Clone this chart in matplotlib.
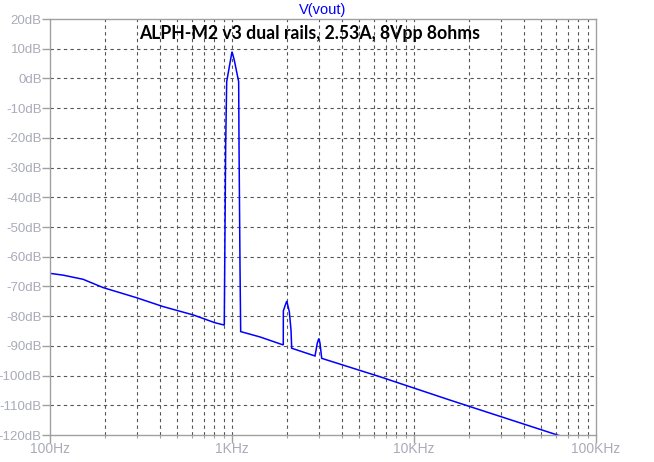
import matplotlib
matplotlib.use("Agg")
import matplotlib.pyplot as plt
from matplotlib.ticker import FixedLocator, FixedFormatter, NullFormatter

# ---- data ----
freq_hz = [100, 118, 152, 196, 299, 419, 613, 804, 907,
           912, 923, 935, 1000, 1029, 1088, 1093, 1107, 1116,
           1425, 1913, 1915, 1955, 2000, 2065, 2110, 2128,
           2858, 2942, 3000, 3044, 3111,
           6505, 15850, 62800]
level_db = [-65.6, -66.2, -67.6, -70.4, -73.8, -76.8, -79.6, -82.2, -83.0,
            -63.4, -22.6, -1.1, 9.0, 6.2, -1.1, -23.0, -64.5, -85.2,
            -87.0, -89.7, -78.2, -76.6, -74.9, -78.5, -84.7, -90.8,
            -93.4, -89.1, -87.5, -89.1, -94.2,
            -100.4, -108.3, -120.2]

y_ticks = list(range(20, -121, -10))
y_labels = [f"{v}dB" for v in y_ticks]
x_major = [100, 1000, 10000, 100000]
x_labels = ["100Hz", "1KHz", "10KHz", "100KHz"]
x_minor = [m * d for d in (100, 1000, 10000) for m in range(2, 10)]

title_text = "V(vout)"
note_text = "ALPH-M2 v3 dual rails, 2.53A, 8Vpp 8ohms"

# ---- figure ----
W, H = 654, 462
fig = plt.figure(figsize=(W / 100, H / 100), dpi=100)
fig.patch.set_facecolor("white")
left, right, top, bottom = 50, 596, 19, 435
ax = fig.add_axes([left / W, 1 - bottom / H, (right - left) / W, (bottom - top) / H])

axis_col = "#a0a0a0"
grid_col = "#555555"
label_col = "#a9abb8"

ax.plot(freq_hz, level_db, color="#0000ff", lw=1.1, solid_joinstyle="miter")
ax.set_xscale("log")
ax.set_xlim(100, 100000)
ax.set_ylim(-120, 20)

ax.xaxis.set_major_locator(FixedLocator(x_major))
ax.xaxis.set_major_formatter(FixedFormatter(x_labels))
ax.xaxis.set_minor_locator(FixedLocator(x_minor))
ax.xaxis.set_minor_formatter(NullFormatter())
ax.yaxis.set_major_locator(FixedLocator(y_ticks))
ax.yaxis.set_major_formatter(FixedFormatter(y_labels))

for v in x_major[1:-1] + x_minor:
    ax.axvline(v, color=grid_col, lw=0.8, ls=(0, (3, 3)), zorder=0.5)
for v in y_ticks[1:-1]:
    ax.axhline(v, color=grid_col, lw=0.8, ls=(0, (3, 3)), zorder=0.5)

for s in ax.spines.values():
    s.set_color(axis_col)
    s.set_linewidth(1.0)

ax.tick_params(axis="both", which="major", direction="out", length=6, width=1.0,
               color=axis_col, labelcolor=label_col, labelsize=9.5,
               labelfontfamily="Liberation Sans")
ax.tick_params(axis="y", which="major", pad=0)
ax.tick_params(axis="x", which="major", pad=-1, labelsize=10)
ax.tick_params(axis="x", which="minor", direction="out", length=2.2, width=0.8,
               color=axis_col)

fig.text((left + right) / 2 / W, 1 - 10 / H, title_text, color="#0000ff",
         ha="center", va="center", fontsize=10.5, family="Liberation Sans")
fig.text(139 / W, 1 - 33 / H, note_text, color="black", ha="left", va="center",
         fontsize=12.7, fontweight="bold", family="Lato")

fig.savefig("out.png", dpi=100)
